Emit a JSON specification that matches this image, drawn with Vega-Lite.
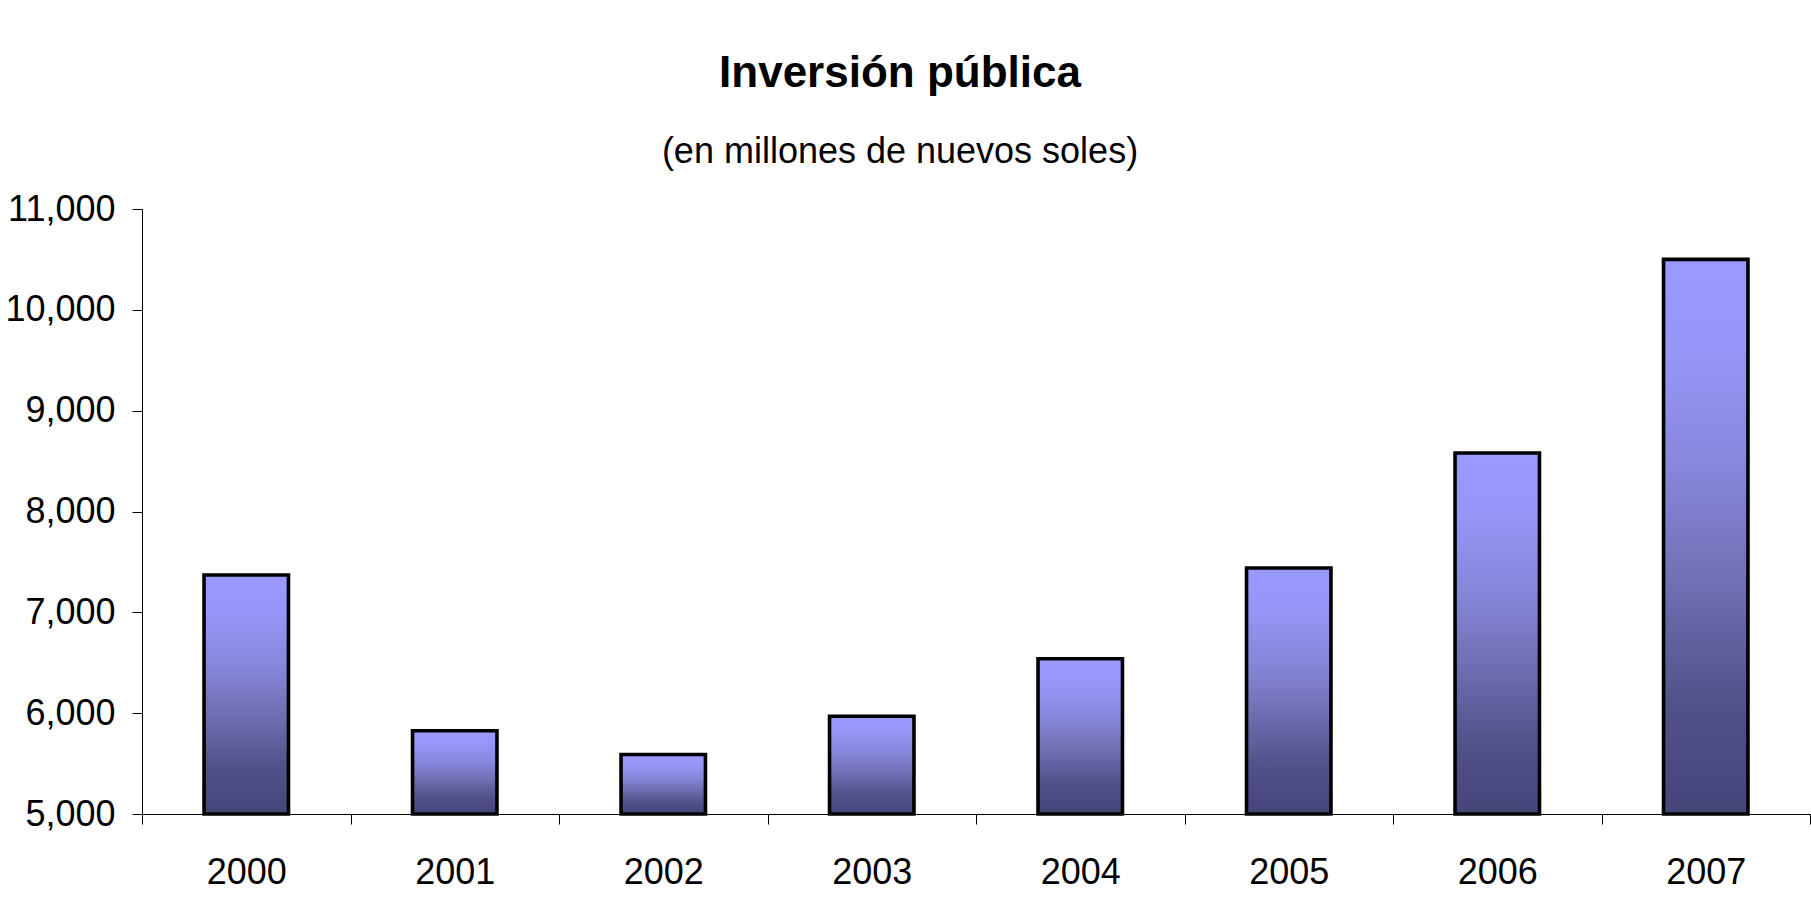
{
  "$schema": "https://vega.github.io/schema/vega-lite/v6.json",
  "autosize": {"type": "none"},
  "padding": {"left": 142, "top": 209, "right": 1, "bottom": 102},
  "width": 1668,
  "height": 605,
  "background": "white",
  "title": {
    "text": "Inversión pública",
    "subtitle": "(en millones de nuevos soles)",
    "font": "Liberation Sans",
    "fontSize": 44,
    "fontWeight": "bold",
    "color": "black",
    "subtitleFont": "Liberation Sans",
    "subtitleFontSize": 36,
    "subtitleColor": "black",
    "subtitlePadding": 38.5,
    "anchor": "middle",
    "dx": -76,
    "offset": 21.5
  },
  "data": {
    "values": [
      {"anio": "2000", "inversion": 7370},
      {"anio": "2001", "inversion": 5825},
      {"anio": "2002", "inversion": 5590},
      {"anio": "2003", "inversion": 5970},
      {"anio": "2004", "inversion": 6540},
      {"anio": "2005", "inversion": 7440},
      {"anio": "2006", "inversion": 8580},
      {"anio": "2007", "inversion": 10500}
    ]
  },
  "mark": {
    "type": "bar",
    "width": {"band": 0.405},
    "stroke": "black",
    "strokeWidth": 3.6,
    "color": {
      "gradient": "linear",
      "x1": 0, "y1": 0, "x2": 0, "y2": 1,
      "stops": [
        {"offset": 0, "color": "#9999ff"},
        {"offset": 0.15, "color": "#9797fa"},
        {"offset": 0.4, "color": "#8585d8"},
        {"offset": 0.6, "color": "#6d6db0"},
        {"offset": 0.8, "color": "#52528a"},
        {"offset": 1, "color": "#45457a"}
      ]
    }
  },
  "encoding": {
    "x": {
      "field": "anio",
      "type": "ordinal",
      "scale": {"paddingInner": 0, "paddingOuter": 0},
      "axis": {
        "title": null,
        "labelAngle": 0,
        "tickBand": "extent",
        "domainColor": "black",
        "tickColor": "black",
        "tickSize": 10,
        "labelFont": "Liberation Sans",
        "labelFontSize": 36,
        "labelColor": "black",
        "labelPadding": 31
      }
    },
    "y": {
      "field": "inversion",
      "type": "quantitative",
      "scale": {"domain": [5000, 11000], "nice": false, "zero": false},
      "axis": {
        "title": null,
        "values": [5000, 6000, 7000, 8000, 9000, 10000, 11000],
        "format": ",d",
        "grid": false,
        "domainColor": "black",
        "tickColor": "black",
        "tickSize": 10,
        "labelFont": "Liberation Sans",
        "labelFontSize": 36,
        "labelColor": "black",
        "labelPadding": 17
      }
    },
    "y2": {"datum": 5000}
  },
  "config": {"view": {"stroke": null}}
}
